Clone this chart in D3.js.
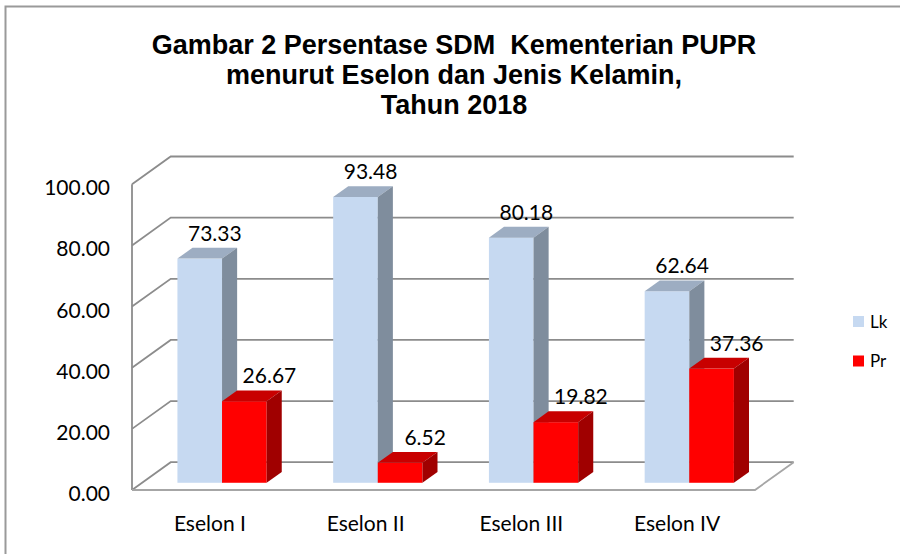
<!DOCTYPE html>
<html>
<head>
<meta charset="utf-8">
<script src="https://cdn.jsdelivr.net/npm/d3@7"></script>
<style>
  body { margin: 0; background: #fff; }
  svg text { font-family: Lato, "Open Sans", sans-serif; fill: #000; }
  .title { font-family: "Liberation Sans", Arial, sans-serif; font-weight: bold; font-size: 27px; white-space: pre; }
</style>
</head>
<body>
<svg id="grafico" width="900" height="554"></svg>
<script>
// data
var categories = ["Eselon I", "Eselon II", "Eselon III", "Eselon IV"];
var seriesNames = ["Lk", "Pr"];
var lk = [73.33, 93.48, 80.18, 62.64];
var pr = [26.67, 6.52, 19.82, 37.36];
var yTicks = [0, 20, 40, 60, 80, 100];
var titleLines = ["Gambar 2 Persentase SDM  Kementerian PUPR", "menurut Eselon dan Jenis Kelamin,", "Tahun 2018"];

// dimensions
var svg = d3.select("svg#grafico"),
    width = +svg.attr("width"),
    height = +svg.attr("height");

// 3d box of the plot: front plane + offset to the back wall
var DX = 38.7, DY = -27.8;
var f0 = 0.26, f1 = 0.65;   // depth of bar front and back faces

// scales
var x = d3.scaleBand().domain(categories).range([132, 755]);
var y = d3.scaleLinear().domain([0, 100]).range([490, 184.3]);

var colors = {
  Lk: { front: "#c6d9f1", top: "#9dadc2", side: "#7f8d9d" },
  Pr: { front: "#ff0000", top: "#c80000", side: "#a00000" }
};
var gridColor = "#8c8c8c";

// outer border
svg.append("path")
    .attr("d", "M5.5,554 L5.5,6.5 L900,6.5")
    .attr("fill", "none")
    .attr("stroke", "#9a9a9a")
    .attr("stroke-width", 2);

// title
svg.append("text")
    .attr("class", "title")
    .attr("text-anchor", "middle")
    .attr("xml:space", "preserve")
    .selectAll("tspan")
    .data(titleLines)
    .enter().append("tspan")
    .attr("x", 454)
    .attr("y", function(d, i) { return 54 + i * 30; })
    .text(function(d) { return d; });

// walls and gridlines
var grid = svg.append("g").attr("fill", "none").attr("stroke", gridColor).attr("stroke-width", 1.8);
var x0 = x.range()[0], x1 = x.range()[1];
grid.selectAll(".grid")
    .data(yTicks)
    .enter().append("path")
    .attr("class", "grid")
    .attr("d", function(d) {
      var yy = y(d);
      return "M" + x0 + "," + yy + " L" + (x0 + DX) + "," + (yy + DY) + " L" + (x1 + DX) + "," + (yy + DY);
    });
// left front edge
grid.append("line")
    .attr("x1", x0).attr("y1", y(0))
    .attr("x2", x0).attr("y2", y(100));
// floor front and right edges
grid.append("path")
    .attr("stroke", "#a6a6a6")
    .attr("d", "M" + x0 + "," + y(0) + " L" + x1 + "," + y(0) + " L" + (x1 + DX) + "," + (y(0) + DY));

// y axis labels
svg.append("g")
    .selectAll("text")
    .data(yTicks)
    .enter().append("text")
    .attr("x", 110)
    .attr("y", function(d) { return y(d) + 11; })
    .attr("text-anchor", "end")
    .style("font-size", "21px")
    .text(function(d) { return d3.format(".2f")(d); });

// category labels
svg.append("g")
    .selectAll("text")
    .data(categories)
    .enter().append("text")
    .attr("x", function(d) { return x(d) + x.bandwidth() / 2; })
    .attr("y", 531)
    .attr("text-anchor", "middle")
    .style("font-size", "21px")
    .text(function(d) { return d; });

// bars
var bars = [];
categories.forEach(function(c, i) {
  bars.push({ cat: c, series: "Lk", value: lk[i] });
  bars.push({ cat: c, series: "Pr", value: pr[i] });
});

var bw = x.bandwidth() * 0.573 / 2;
var ddx = DX * (f1 - f0), ddy = DY * (f1 - f0);

var bar = svg.selectAll(".bar")
    .data(bars)
    .enter().append("g")
    .attr("class", "bar");

function geom(d) {
  var left = x(d.cat) + DX * f0 + x.bandwidth() * 0.227 + (d.series === "Pr" ? bw : 0);
  var top = y(d.value) + DY * f0;
  var bottom = y(0) + DY * f0;
  return { l: left, r: left + bw, t: top, b: bottom };
}

bar.append("rect")
    .attr("x", function(d) { return geom(d).l; })
    .attr("y", function(d) { return geom(d).t; })
    .attr("width", bw)
    .attr("height", function(d) { var g = geom(d); return g.b - g.t; })
    .attr("fill", function(d) { return colors[d.series].front; });

bar.append("path")
    .attr("fill", function(d) { return colors[d.series].top; })
    .attr("d", function(d) {
      var g = geom(d);
      return "M" + g.l + "," + g.t + " L" + g.r + "," + g.t + " L" + (g.r + ddx) + "," + (g.t + ddy) +
             " L" + (g.l + ddx) + "," + (g.t + ddy) + "Z";
    });

bar.append("path")
    .attr("fill", function(d) { return colors[d.series].side; })
    .attr("d", function(d) {
      var g = geom(d);
      return "M" + g.r + "," + g.t + " L" + (g.r + ddx) + "," + (g.t + ddy) + " L" + (g.r + ddx) + "," + (g.b + ddy) +
             " L" + g.r + "," + g.b + "Z";
    });

// value labels
bar.append("text")
    .attr("x", function(d) { var g = geom(d); return g.l + ddx + bw / 2 + (d.series === "Pr" ? 10 : 0); })
    .attr("y", function(d) { return geom(d).t + ddy - 7; })
    .attr("text-anchor", "middle")
    .style("font-size", "21px")
    .text(function(d) { return d3.format(".2f")(d.value); });

// legend
var legend = svg.selectAll(".legend")
    .data(seriesNames)
    .enter().append("g")
    .attr("class", "legend")
    .attr("transform", function(d, i) { return "translate(853," + (316 + i * 39.5) + ")"; });
legend.append("rect")
    .attr("width", 11)
    .attr("height", 11)
    .attr("fill", function(d) { return colors[d].front; });
legend.append("text")
    .attr("x", 17)
    .attr("y", 11.5)
    .style("font-size", "17px")
    .text(function(d) { return d; });
</script>
</body>
</html>
